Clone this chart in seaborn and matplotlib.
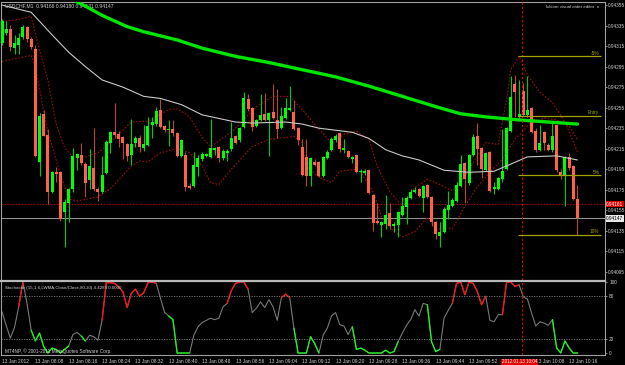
import matplotlib
matplotlib.use("Agg")
import matplotlib.pyplot as plt
import matplotlib.transforms as mtransforms
import seaborn as sns
import pandas as pd
import numpy as np

# ---------------- data ----------------
symbol_title = "USDCHF,M1  0.94166 0.94180 0.94131 0.94147"
editor_label = "lukiom visual order editor"
stoch_title = "Stochastic (15,1,6,LWMA,Close/Close,80,20) 4.4284 0.0000"
copyright_text = "MT4NP, \u00a9 2001-2011 MetaQuotes Software Corp."

opens = [0.94318,0.94328,0.94332,0.94313,0.94316,0.94324,0.94334,0.94322,0.94312,0.94202,
         0.94249,0.94228,0.94173,0.94192,0.94192,0.94153,0.94162,0.94176,0.94206,0.94209,
         0.94200,0.94184,0.94196,0.94176,0.94173,0.94191,0.94221,0.94231,0.94229,0.94226,
         0.94220,0.94209,0.94221,0.94225,0.94216,0.94219,0.94238,0.94239,0.94253,0.94237,
         0.94233,0.94234,0.94230,0.94208,0.94209,0.94179,0.94179,0.94197,0.94205,0.94208,
         0.94207,0.94214,0.94217,0.94206,0.94211,0.94215,0.94227,0.94223,0.94236,0.94263,
         0.94255,0.94237,0.94243,0.94249,0.94243,0.94251,0.94243,0.94235,0.94245,0.94253,
         0.94251,0.94235,0.94217,0.94207,0.94188,0.94202,0.94202,0.94188,0.94206,0.94214,
         0.94223,0.94230,0.94214,0.94213,0.94205,0.94209,0.94192,0.94191,0.94194,0.94170,
         0.94144,0.94141,0.94142,0.94152,0.94140,0.94141,0.94150,0.94158,0.94167,0.94173,
         0.94176,0.94167,0.94180,0.94168,0.94144,0.94130,0.94134,0.94155,0.94159,0.94164,
         0.94179,0.94201,0.94182,0.94209,0.94227,0.94216,0.94194,0.94212,0.94176,0.94176,
         0.94185,0.94195,0.94232,0.94278,0.94246,0.94271,0.94248,0.94255,0.94232,0.94214,
         0.94231,0.94219,0.94214,0.94238,0.94192,0.94188,0.94207,0.94198,0.94166]
highs = [0.94341,0.94339,0.94336,0.94326,0.94328,0.94336,0.94335,0.94324,0.94316,0.94250,
         0.94253,0.94234,0.94193,0.94197,0.94193,0.94166,0.94177,0.94216,0.94211,0.94221,
         0.94202,0.94215,0.94235,0.94178,0.94208,0.94223,0.94232,0.94260,0.94232,0.94227,
         0.94221,0.94244,0.94227,0.94228,0.94238,0.94246,0.94246,0.94256,0.94263,0.94238,
         0.94243,0.94243,0.94231,0.94224,0.94212,0.94182,0.94212,0.94209,0.94212,0.94211,
         0.94244,0.94217,0.94218,0.94215,0.94215,0.94241,0.94228,0.94236,0.94270,0.94268,
         0.94256,0.94244,0.94268,0.94269,0.94251,0.94278,0.94273,0.94256,0.94264,0.94276,
         0.94262,0.94236,0.94224,0.94224,0.94207,0.94205,0.94203,0.94208,0.94214,0.94226,
         0.94229,0.94231,0.94224,0.94214,0.94208,0.94210,0.94195,0.94195,0.94195,0.94171,
         0.94162,0.94145,0.94170,0.94162,0.94144,0.94154,0.94168,0.94169,0.94176,0.94178,
         0.94177,0.94180,0.94181,0.94169,0.94145,0.94144,0.94158,0.94174,0.94167,0.94183,
         0.94209,0.94202,0.94210,0.94229,0.94240,0.94217,0.94212,0.94213,0.94183,0.94187,
         0.94234,0.94236,0.94286,0.94287,0.94282,0.94279,0.94286,0.94256,0.94235,0.94238,
         0.94232,0.94221,0.94241,0.94239,0.94195,0.94208,0.94211,0.94199,0.94180]
lows = [0.94316,0.94326,0.94310,0.94307,0.94307,0.94322,0.94319,0.94312,0.94207,0.94188,
        0.94227,0.94161,0.94172,0.94183,0.94145,0.94119,0.94144,0.94173,0.94194,0.94199,
        0.94168,0.94176,0.94174,0.94164,0.94172,0.94190,0.94211,0.94225,0.94217,0.94205,
        0.94203,0.94199,0.94217,0.94212,0.94213,0.94218,0.94225,0.94237,0.94235,0.94231,
        0.94218,0.94227,0.94207,0.94207,0.94174,0.94176,0.94178,0.94188,0.94203,0.94207,
        0.94206,0.94209,0.94202,0.94204,0.94203,0.94213,0.94220,0.94222,0.94235,0.94252,
        0.94232,0.94236,0.94242,0.94242,0.94208,0.94244,0.94225,0.94234,0.94244,0.94252,
        0.94233,0.94219,0.94188,0.94179,0.94179,0.94198,0.94187,0.94187,0.94205,0.94213,
        0.94222,0.94212,0.94211,0.94206,0.94201,0.94191,0.94183,0.94189,0.94171,0.94135,
        0.94142,0.94129,0.94137,0.94137,0.94134,0.94129,0.94149,0.94142,0.94166,0.94172,
        0.94168,0.94153,0.94167,0.94140,0.94127,0.94119,0.94133,0.94146,0.94158,0.94163,
        0.94178,0.94162,0.94180,0.94208,0.94199,0.94186,0.94193,0.94173,0.94171,0.94175,
        0.94183,0.94194,0.94231,0.94246,0.94245,0.94247,0.94246,0.94230,0.94212,0.94213,
        0.94214,0.94213,0.94212,0.94192,0.94185,0.94159,0.94194,0.94165,0.94131]
closes = [0.94339,0.94332,0.94314,0.94318,0.94323,0.94334,0.94322,0.94314,0.94208,0.94247,
          0.94227,0.94173,0.94192,0.94190,0.94146,0.94163,0.94176,0.94208,0.94210,0.94201,
          0.94182,0.94198,0.94176,0.94173,0.94189,0.94222,0.94231,0.94228,0.94224,0.94221,
          0.94208,0.94220,0.94225,0.94217,0.94220,0.94237,0.94241,0.94252,0.94236,0.94233,
          0.94234,0.94230,0.94208,0.94223,0.94178,0.94177,0.94199,0.94206,0.94210,0.94210,
          0.94216,0.94216,0.94206,0.94213,0.94213,0.94225,0.94221,0.94235,0.94264,0.94254,
          0.94236,0.94243,0.94248,0.94243,0.94250,0.94245,0.94234,0.94247,0.94255,0.94255,
          0.94234,0.94223,0.94189,0.94188,0.94206,0.94199,0.94188,0.94207,0.94212,0.94224,
          0.94227,0.94215,0.94215,0.94207,0.94207,0.94192,0.94193,0.94193,0.94172,0.94143,
          0.94143,0.94144,0.94150,0.94140,0.94142,0.94153,0.94159,0.94167,0.94173,0.94175,
          0.94169,0.94179,0.94168,0.94144,0.94132,0.94134,0.94156,0.94160,0.94165,0.94180,
          0.94200,0.94185,0.94209,0.94226,0.94215,0.94195,0.94211,0.94174,0.94177,0.94186,
          0.94193,0.94235,0.94265,0.94270,0.94249,0.94248,0.94253,0.94231,0.94214,0.94221,
          0.94221,0.94214,0.94227,0.94194,0.94188,0.94207,0.94196,0.94166,0.94147]

# slow moving average (thick green), sampled at candle indices
ma_slow_idx = [17, 20, 24, 30, 34, 42, 48, 56, 64, 72, 80, 88, 96, 104, 110, 116, 124, 131, 138]
ma_slow_val = [0.94360, 0.94354, 0.94345, 0.94334, 0.94329, 0.94321, 0.94313, 0.94305, 0.94299,
               0.94292, 0.94285, 0.94276, 0.94266, 0.94256, 0.94249, 0.94246, 0.94243, 0.94241, 0.94239]
# faster moving average (thin silver)
ma_fast_idx = [0, 7, 12, 16, 20, 24, 29, 34, 38, 43, 48, 56, 60, 68, 72, 76, 84, 88, 92, 96,
               100, 106, 112, 118, 122, 126, 133, 138]
ma_fast_val = [0.94355, 0.94348, 0.94326, 0.94309, 0.94295, 0.94282, 0.94275, 0.94266, 0.94264,
               0.94258, 0.94248, 0.94241, 0.94240, 0.94241, 0.94239, 0.94235, 0.94231, 0.94225,
               0.94214, 0.94208, 0.94204, 0.94194, 0.94192, 0.94193, 0.94200, 0.94207, 0.94208, 0.94204]
# envelope bands (dark red dotted)
upper_idx = [0, 4, 7, 9, 11, 13, 15, 17, 20, 23, 26, 31, 35, 40, 42, 45, 48, 50, 55, 61, 65, 69, 72,
             76, 79, 82, 85, 88, 90, 93, 96, 99, 102, 104, 108, 111, 114, 116, 119, 121, 122, 124,
             126, 129, 132, 135, 138]
upper_val = [0.94339, 0.94341, 0.94344, 0.94311, 0.94282, 0.94239, 0.94216, 0.94207, 0.94207, 0.94211,
             0.94221, 0.94241, 0.94242, 0.94253, 0.94254, 0.94246, 0.94226, 0.94217, 0.94231, 0.94256,
             0.94266, 0.94266, 0.94253, 0.94234, 0.94221, 0.94229, 0.94232, 0.94224, 0.94198, 0.94173,
             0.94159, 0.94177, 0.94185, 0.94182, 0.94174, 0.94188, 0.94208, 0.94221, 0.94219, 0.94263,
             0.94292, 0.94305, 0.94287, 0.94270, 0.94260, 0.94241, 0.94212]
lower_idx = [0, 7, 8, 11, 14, 16, 18, 23, 26, 31, 33, 35, 38, 42, 45, 48, 50, 52, 55, 60, 64, 70, 72,
             73, 76, 79, 81, 85, 86, 89, 91, 94, 96, 99, 102, 104, 108, 111, 114, 117, 120, 123, 126,
             130, 133, 136, 138]
lower_val = [0.94300, 0.94306, 0.94295, 0.94231, 0.94190, 0.94166, 0.94164, 0.94168, 0.94176, 0.94198,
             0.94203, 0.94202, 0.94211, 0.94215, 0.94211, 0.94198, 0.94182, 0.94180, 0.94195, 0.94217,
             0.94224, 0.94227, 0.94221, 0.94198, 0.94187, 0.94182, 0.94193, 0.94195, 0.94192, 0.94173,
             0.94149, 0.94134, 0.94129, 0.94134, 0.94148, 0.94137, 0.94137, 0.94159, 0.94178, 0.94192,
             0.94205, 0.94224, 0.94237, 0.94245, 0.94243, 0.94237, 0.94224]

# stochastic oscillator, one value per candle
stoch = [58, 39, 21, 36, 65, 100, 70, 32, 17, 28,
         9, 0, 7, 5, 0, 5, 10, 26, 29, 24,
         17, 25, 23, 18, 46, 99, 99, 98, 93, 86,
         64, 84, 90, 80, 85, 99, 100, 98, 77, 57,
         52, 47, 0, 0, 0, 0, 25, 37, 43, 46,
         49, 47, 49, 65, 70, 88, 98, 100, 100, 90,
         57, 63, 72, 64, 75, 65, 46, 78, 83, 78,
         35, 0, 0, 0, 23, 13, 0, 25, 35, 52,
         57, 40, 38, 26, 37, 5, 7, 4, 0, 0,
         0, 0, 4, 0, 2, 16, 28, 39, 47, 61,
         52, 70, 68, 16, 2, 5, 49, 60, 70, 98,
         100, 82, 100, 98, 86, 68, 80, 46, 44, 54,
         54, 100, 100, 94, 96, 79, 76, 56, 38, 44,
         42, 39, 47, 7, 0, 17, 7, 0, 0]
stoch_red_spans = [(4, 5), (24, 37), (54, 59), (67, 69), (108, 116), (120, 124)]
stoch_green_spans = [(7, 16), (19, 20), (40, 45), (70, 76), (84, 95), (102, 105), (132, 138)]
stoch_levels = [20, 80]
stoch_ticks = [0, 20, 80, 100]

# order editor levels
level_names = ["-5%", "Entry", "5%", "10%"]
level_prices = [0.94305, 0.94247, 0.94189, 0.94131]
level_start_idx = 123.7
level_end_idx = 143.6

bid_price = 0.94147
ask_price = 0.94161
cursor_idx = 124.7
cursor_label = "2012.01.13 10:04"

price_ticks = [0.94355, 0.94335, 0.94315, 0.94295, 0.94275, 0.94255, 0.94235,
               0.94215, 0.94195, 0.94175, 0.94155, 0.94135, 0.94115, 0.94095]
# the 10:00 label sits under the red cursor box in the original, so it is not shown
time_tick_idx = [0, 8, 16, 24, 32, 40, 48, 56, 64, 72, 80, 88, 96, 104, 112, 128, 136]
time_tick_labels = ["13 Jan 2012", "13 Jan 08:08", "13 Jan 08:16", "13 Jan 08:24", "13 Jan 08:32",
                    "13 Jan 08:40", "13 Jan 08:48", "13 Jan 08:56", "13 Jan 09:04", "13 Jan 09:12",
                    "13 Jan 09:20", "13 Jan 09:28", "13 Jan 09:36", "13 Jan 09:44", "13 Jan 09:52",
                    "13 Jan 10:08", "13 Jan 10:16"]

# ---------------- style ----------------
sns.set_style("dark", rc={"axes.facecolor": "black", "figure.facecolor": "black",
                          "axes.edgecolor": "#a0a0a0", "text.color": "#d0d0d0"})
plt.rcParams["font.family"] = ["Liberation Sans", "DejaVu Sans"]

BULL = "#00ff00"
BEAR = "#ff6347"
BULL_WICK = "#00d000"
BEAR_WICK = "#b8482c"
TXT = "#d0d0d0"
LEVEL = "#a0a000"
LBL = 3.4

W, H = 625, 365
fig = plt.figure(figsize=(W / 100, H / 100), dpi=100, facecolor="black")
ax = fig.add_axes([1 / W, 1 - 280 / H, 604 / W, 278 / H])
ax2 = fig.add_axes([1 / W, 1 - 355 / H, 604 / W, 74 / H], sharex=ax)
for a in (ax, ax2):
    a.set_facecolor("black")
    a.grid(False)

df = pd.DataFrame({"i": np.arange(len(opens)), "open": opens, "high": highs,
                   "low": lows, "close": closes})
bull = df["close"] >= df["open"]

# candles
ax.vlines(df.loc[bull, "i"], df.loc[bull, "low"], df.loc[bull, "high"], color=BULL_WICK, lw=0.8, zorder=3)
ax.vlines(df.loc[~bull, "i"], df.loc[~bull, "low"], df.loc[~bull, "high"], color=BEAR_WICK, lw=0.8, zorder=3)
body_h = (df["close"] - df["open"]).abs().clip(lower=0.000012)
body_b = df[["open", "close"]].min(axis=1)
ax.bar(df["i"], body_h, bottom=body_b, width=0.72, color=np.where(bull, BULL, BEAR), lw=0, zorder=4)

# moving averages and bands
sns.lineplot(x=ma_fast_idx, y=ma_fast_val, ax=ax, color="#c8c8c8", lw=0.8, zorder=5)
sns.lineplot(x=upper_idx, y=upper_val, ax=ax, color="#9a1010", lw=0.8, linestyle=(0, (1.5, 1.5)), zorder=2)
sns.lineplot(x=lower_idx, y=lower_val, ax=ax, color="#9a1010", lw=0.8, linestyle=(0, (1.5, 1.5)), zorder=2)
sns.lineplot(x=ma_slow_idx, y=ma_slow_val, ax=ax, color="#00e400", lw=2.4, zorder=6)

# bid / ask / cursor
ax.axhline(ask_price, color="#c00000", lw=0.7, ls=(0, (1.5, 1.5)), zorder=1)
ax.axhline(bid_price, color="#909090", lw=0.8, zorder=1)
for a in (ax, ax2):
    a.axvline(cursor_idx, color="#e00000", lw=0.7, ls=(0, (2.5, 2)), zorder=7)

# order editor levels
for name, p in zip(level_names, level_prices):
    ax.hlines(p, level_start_idx, level_end_idx, color=LEVEL, lw=0.9, zorder=8)
    ax.text(level_end_idx - 0.4, p + 0.000008, name, color=LEVEL, fontsize=LBL,
            ha="right", va="bottom", zorder=8)

ax.set_xlim(-0.24, 144.6)
ax.set_ylim(0.94087, 0.94358)
ax.set_xlabel("")
ax.set_ylabel("")
ax.yaxis.tick_right()
ax.set_yticks(price_ticks)
ax.set_yticklabels([f"{p:.5f}" for p in price_ticks])
ax.tick_params(axis="y", length=1.5, width=0.6, color="#a0a0a0", pad=0.8, labelsize=LBL, labelcolor=TXT)
ax.tick_params(axis="x", bottom=False, labelbottom=False)
for s in ["left", "right", "top"]:
    ax.spines[s].set_color("#a0a0a0")
    ax.spines[s].set_linewidth(0.8)
ax.spines["bottom"].set_visible(False)

trans = mtransforms.blended_transform_factory(ax.transAxes, ax.transData)
ax.text(1.002, ask_price, f"{ask_price:.5f}", transform=trans, color="white", fontsize=LBL,
        ha="left", va="center", clip_on=False, zorder=10,
        bbox=dict(boxstyle="square,pad=0.12", fc="#e00000", ec="none"))
ax.text(1.002, bid_price, f"{bid_price:.5f}", transform=trans, color="black", fontsize=LBL,
        ha="left", va="center", clip_on=False, zorder=10,
        bbox=dict(boxstyle="square,pad=0.12", fc="#e8e8e8", ec="none"))

ax.text(0.006, 0.985, symbol_title, transform=ax.transAxes, color=TXT, fontsize=3.6, ha="left", va="center")
ax.text(0.99, 0.983, editor_label + "  \u25cb", transform=ax.transAxes, color=TXT, fontsize=3.2,
        ha="right", va="center")

# stochastic panel
x_all = list(range(len(stoch)))
sns.lineplot(x=x_all, y=stoch, ax=ax2, color="#787878", lw=0.8)
for a0, b0 in stoch_red_spans:
    sns.lineplot(x=x_all[a0:b0 + 1], y=stoch[a0:b0 + 1], ax=ax2, color="#ff1010", lw=0.9)
for a0, b0 in stoch_green_spans:
    sns.lineplot(x=x_all[a0:b0 + 1], y=stoch[a0:b0 + 1], ax=ax2, color="#10ff10", lw=0.9)
for lv in stoch_levels:
    ax2.axhline(lv, color="#808080", lw=0.6, ls=(0, (1.5, 1.5)))
ax2.set_ylim(-2.8, 101.4)
ax2.set_xlabel("")
ax2.set_ylabel("")
ax2.yaxis.tick_right()
ax2.set_yticks(stoch_ticks)
ax2.set_yticklabels([str(t) for t in stoch_ticks])
ax2.tick_params(axis="y", length=1.5, width=0.6, color="#a0a0a0", pad=1.5, labelsize=LBL, labelcolor=TXT)
ax2.set_xticks(time_tick_idx)
ax2.set_xticklabels(time_tick_labels)
for lab in ax2.get_xticklabels():
    lab.set_horizontalalignment("left")
ax2.tick_params(axis="x", length=2, width=0.6, color="#a0a0a0", pad=1.0, labelsize=3.5, labelcolor=TXT)
for s in ["left", "right", "bottom"]:
    ax2.spines[s].set_color("#a0a0a0")
    ax2.spines[s].set_linewidth(0.8)
ax2.spines["top"].set_color("#b8b8b8")
ax2.spines["top"].set_linewidth(1.6)
ax2.set_xlim(-0.24, 144.6)

ax2.text(0.006, 0.9, stoch_title, transform=ax2.transAxes, color=TXT, fontsize=3.2, ha="left", va="center")
ax2.text(0.006, 0.05, copyright_text, transform=ax2.transAxes, color=TXT, fontsize=3.4, ha="left", va="center")

trans2 = mtransforms.blended_transform_factory(ax2.transData, ax2.transAxes)
ax2.text(cursor_idx - 0.6, -0.06, cursor_label, transform=trans2, color="white", fontsize=3.3, ha="center",
         va="top", clip_on=False, zorder=10,
         bbox=dict(boxstyle="square,pad=0.1", fc="#e00000", ec="none"))

fig.savefig("out.png", dpi=100, facecolor="black")
